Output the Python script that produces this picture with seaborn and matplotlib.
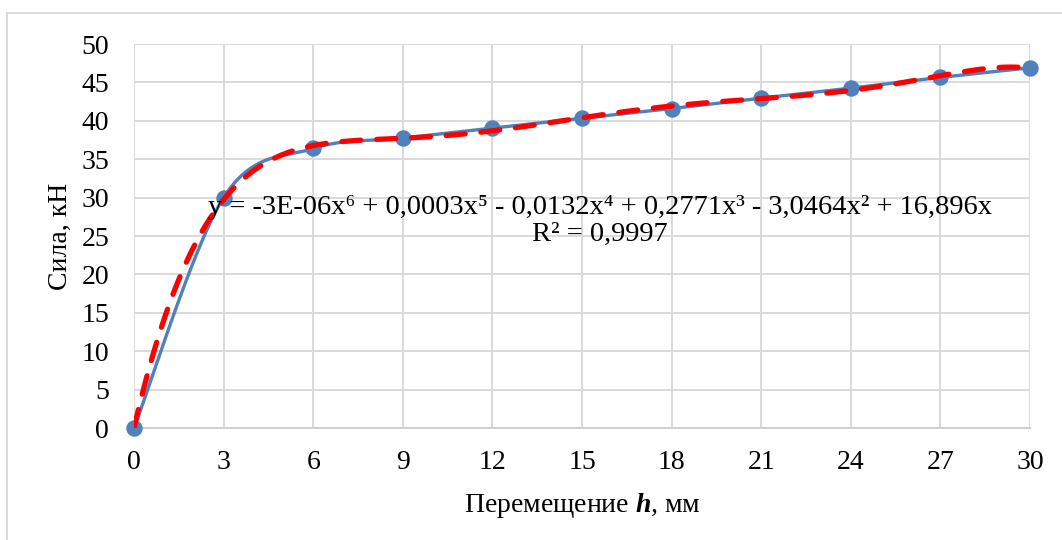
import numpy as np
import pandas as pd
import matplotlib
matplotlib.use("Agg")
import matplotlib.pyplot as plt
import seaborn as sns
from matplotlib.lines import Line2D

# ---- data ----
h_mm = [0, 3, 6, 9, 12, 15, 18, 21, 24, 27, 30]
force_kn = [0.0, 30.0, 36.4, 37.75, 39.05, 40.35, 41.6, 42.95, 44.25, 45.65, 46.9]
x_ticks = [0, 3, 6, 9, 12, 15, 18, 21, 24, 27, 30]
y_ticks = [0, 5, 10, 15, 20, 25, 30, 35, 40, 45, 50]
eq_text = "y = -3E-06x⁶ + 0,0003x⁵ - 0,0132x⁴ + 0,2771x³ - 3,0464x² + 16,896x"
r2_text = "R² = 0,9997"
x_label = r"Перемещение $\mathbfit{h}$, мм"
y_label = "Сила, кН"

BLUE = "#4F81BD"
RED = "#FF0000"
GRID = "#D9D9D9"
FS = 20

sns.set_theme(style="whitegrid")
plt.rcParams["font.family"] = ["Liberation Serif", "DejaVu Serif"]
plt.rcParams["mathtext.fontset"] = "custom"
plt.rcParams["mathtext.rm"] = "Liberation Serif"
plt.rcParams["mathtext.it"] = "Liberation Serif:italic"
plt.rcParams["mathtext.bf"] = "Liberation Serif:bold"
plt.rcParams["mathtext.bfit"] = "Liberation Serif:italic:bold"

df = pd.DataFrame({"h": h_mm, "F": force_kn})

# Excel-like smoothed line (Catmull-Rom as cubic Bezier)
xs = np.array(h_mm, float)
ys = np.array(force_kn, float)
n = len(xs)
sx, sy = [], []
t = np.linspace(0, 1, 40)
for i in range(n - 1):
    p0 = np.array([xs[i], ys[i]])
    p3 = np.array([xs[i + 1], ys[i + 1]])
    pm = np.array([xs[max(i - 1, 0)], ys[max(i - 1, 0)]])
    pp = np.array([xs[min(i + 2, n - 1)], ys[min(i + 2, n - 1)]])
    c1 = p0 + (p3 - pm) / 6.0
    c2 = p3 - (pp - p0) / 6.0
    b = ((1 - t) ** 3)[:, None] * p0 + (3 * (1 - t) ** 2 * t)[:, None] * c1 \
        + (3 * (1 - t) * t ** 2)[:, None] * c2 + (t ** 3)[:, None] * p3
    sx.extend(b[:, 0])
    sy.extend(b[:, 1])
smooth = pd.DataFrame({"h": sx, "F": sy})

# polynomial trendline order 6, intercept 0
A = np.vstack([xs ** k for k in range(1, 7)]).T
coef, *_ = np.linalg.lstsq(A, ys, rcond=None)
xf = np.linspace(0, 30, 400)
yf = sum(coef[k - 1] * xf ** k for k in range(1, 7))
trend = pd.DataFrame({"h": xf, "F": yf})

fig = plt.figure(figsize=(10.62, 5.4), dpi=100)
ax = fig.add_axes([0.1262, 0.2074, 0.9699 - 0.1262, 0.9185 - 0.2074])

sns.lineplot(data=smooth, x="h", y="F", ax=ax, color=BLUE, lw=2.4, sort=False,
             estimator=None, zorder=3)
sns.scatterplot(data=df, x="h", y="F", ax=ax, color=BLUE, s=140, edgecolor=BLUE,
                linewidth=0, zorder=4, clip_on=False)
sns.lineplot(data=trend, x="h", y="F", ax=ax, color=RED, lw=3.8, estimator=None,
             zorder=5)
red = ax.lines[-1]
red.set_dashes((3.6, 3.0))
red.set_dash_capstyle("round")
for c in ax.collections:
    c.set_clip_on(False)

ax.set_xlim(0, 30)
ax.set_ylim(0, 50)
ax.set_xticks(x_ticks)
ax.set_yticks(y_ticks)
ax.set_xticklabels([str(v) for v in x_ticks])
ax.set_yticklabels([str(v) for v in y_ticks])
ax.tick_params(axis="both", labelsize=FS, length=0, colors="black")
ax.tick_params(axis="y", pad=18)
ax.tick_params(axis="x", pad=16)
ax.grid(True, color=GRID, lw=1.4)
ax.set_facecolor("white")
for s in ["top", "right", "left"]:
    ax.spines[s].set_visible(False)
ax.spines["bottom"].set_color("#CFCFCF")
ax.spines["bottom"].set_linewidth(1.4)
ax.set_axisbelow(True)

ax.set_xlabel(x_label, fontsize=FS, family="Liberation Serif", labelpad=11, color="black")
ax.set_ylabel(y_label, fontsize=FS, labelpad=6, color="black")

ax.text(0.52, 0.5755, eq_text, transform=ax.transAxes, ha="center", va="center",
        fontsize=FS + 0.5, color="black", zorder=6)
ax.text(0.52, 0.505, r2_text, transform=ax.transAxes, ha="center", va="center",
        fontsize=FS + 0.5, color="black", zorder=6)

# outer chart border (left and top visible in the crop)
W, H = 1062, 540
fig.add_artist(Line2D([7 / W, 7 / W], [0, 1 - 13 / H], transform=fig.transFigure,
                      color=GRID, lw=1.4))
fig.add_artist(Line2D([7 / W, 1], [1 - 13 / H, 1 - 13 / H], transform=fig.transFigure,
                      color=GRID, lw=1.4))

fig.savefig("out.png", dpi=100, facecolor="white")
